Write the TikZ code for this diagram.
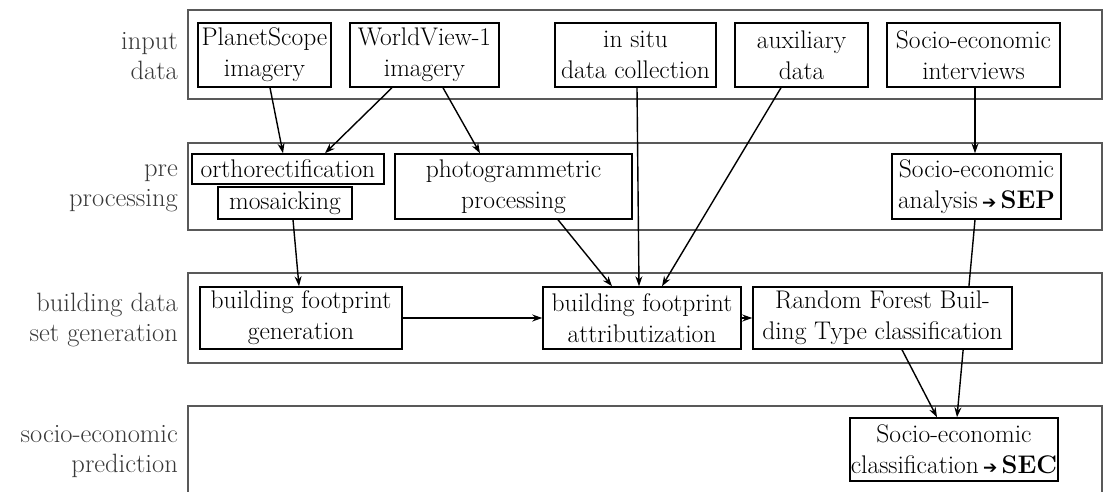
\documentclass[tikz,border=0pt]{standalone}
\usepackage{fontspec}
\newfontfamily\dvfont{DejaVu Sans}
\usetikzlibrary{arrows.meta,backgrounds,calc}
\begin{document}
\begin{tikzpicture}[x=1pt,y=-1pt,
  box/.style={draw=black, line width=1.5pt, fill=white, inner sep=0pt, align=center,
    font=\fontsize{25.5}{31}\selectfont},
  lab/.style={anchor=east, align=right, text=black!78, inner sep=0pt,
    font=\fontsize{26.5}{30}\selectfont},
  panel/.style={draw=black!65, line width=2pt},
  arr/.style={line width=1.4pt, -{Stealth[length=10pt,width=7pt]}}]
\useasboundingbox (0,0) rectangle (1104,491);
\newcommand{\ra}{{\dvfont\fontsize{17}{17}\selectfont ➔}}
% row labels
\node[lab] (l1) at (178,56) {input\\data};
\node[lab] (l2) at (178,188) {pre\\processing};
\node[lab] (l3) at (178,320) {building data\\set generation};
\node[lab] (l4) at (178,452) {socio-economic\\prediction};
% input
\node[box, minimum width=133, minimum height=64] (ps) at (264.5,55) {PlanetScope\\imagery};
\node[box, minimum width=149, minimum height=64] (wv) at (424.5,55) {WorldView-1\\imagery};
\node[box, minimum width=161, minimum height=64] (is) at (635.5,55) {in situ\\data collection};
\node[box, minimum width=133, minimum height=64] (ax) at (801.5,55) {auxiliary\\data};
\node[box, minimum width=173, minimum height=64] (si) at (973.5,55) {Socio-economic\\interviews};
% pre processing
\node[box, minimum width=192, minimum height=30] (or) at (288,169) {orthorectification};
\node[box, minimum width=134, minimum height=32] (mo) at (285,203) {mosaicking};
\node[box, minimum width=237, minimum height=65] (pg) at (513.5,186.5) {photogrammetric\\processing};
\node[box, minimum width=169, minimum height=65] (sa) at (976.5,186.5) {Socio-economic\\analysis\,\ra\,\textbf{SEP}};
% building data set generation
\node[box, minimum width=202, minimum height=62] (bg) at (301,318) {building footprint\\generation};
\node[box, minimum width=198, minimum height=62] (ba) at (642,318) {building footprint\\attributization};
\node[box, minimum width=259, minimum height=62] (rf) at (882.5,318) {Random Forest Buil-\\ding Type classification};
% prediction
\node[box, minimum width=208, minimum height=63] (sc) at (954,449.5) {Socio-economic\\classification\,\ra\,\textbf{SEC}};
\begin{pgfonlayer}{background}
\draw[panel] (188,10) rectangle (1102,99);
\draw[panel] (188,143) rectangle (1102,230);
\draw[panel] (188,273) rectangle (1102,363);
\draw[panel] (188,406) rectangle (1102,500);
\draw[arr] ([xshift=-1.5]sa.south) -- ([xshift=3]sc.north);
\end{pgfonlayer}
% connectors
\draw[arr] ([xshift=5.5]ps.south) -- ([xshift=-5]or.north);
\draw[arr] ([xshift=-32.5]wv.south) -- ([xshift=37]or.north);
\draw[arr] ([xshift=18.5]wv.south) -- ([xshift=-33.5]pg.north);
\draw[arr] ([xshift=1.5]is.south) -- ([xshift=-3]ba.north);
\draw[arr] ([xshift=-20.5]ax.south) -- ([xshift=20]ba.north);
\draw[arr] ([xshift=44.5]pg.south) -- ([xshift=-30]ba.north);
\draw[arr] ([xshift=1.5]si.south) -- ([xshift=-1.5]sa.north);
\draw[arr] ([xshift=8]mo.south) -- ([xshift=-2]bg.north);
\draw[arr] (bg.east) -- (ba.west);
\draw[arr] (ba.east) -- (rf.west);
\draw[arr] ([xshift=19.5]rf.south) -- ([xshift=-17]sc.north);
\end{tikzpicture}
\end{document}
